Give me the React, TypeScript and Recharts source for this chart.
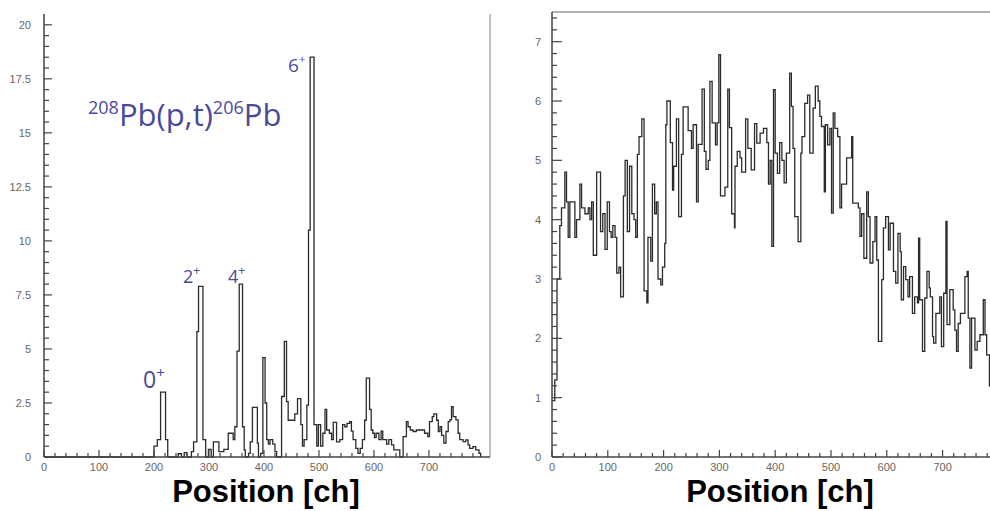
import { LineChart, Line, XAxis, YAxis, ReferenceLine } from "recharts";

// left spectrum: channel where each step starts, and the counts
const leftChannels = [
  0, 200, 206, 212, 221, 225, 244, 250, 255, 260,
  268, 272, 278, 281, 289, 294, 299, 304, 308, 318,
  327, 335, 344, 347, 351, 355, 361, 364, 366, 372,
  375, 379, 388, 390, 394, 398, 402, 405, 408, 411,
  416, 420, 423, 432, 437, 441, 444, 456, 461, 467,
  470, 473, 478, 481, 484, 491, 496, 499, 503, 507,
  511, 514, 519, 523, 526, 532, 538, 543, 547, 551,
  556, 559, 562, 567, 571, 575, 579, 583, 586, 592,
  595, 598, 601, 604, 609, 613, 616, 623, 627, 632,
  636, 647, 653, 659, 662, 666, 671, 677, 686, 692,
  698, 701, 706, 709, 714, 717, 720, 723, 727, 731,
  735, 738, 741, 744, 749, 753, 756, 762, 767, 771,
  774, 780, 785, 791, 794,
];
const leftCounts = [
  0, 0.5, 0.8, 3.0, 0.8, 0, 0.15, 0, 0.2, 0,
  0.25, 0.7, 5.8, 7.9, 0.8, 0, 0.35, 0, 0.7, 0.25,
  0.35, 1.1, 0.8, 1.4, 4.9, 8.0, 1.4, 0.33, 0, 0.17,
  0.7, 2.3, 0.64, 0, 0.17, 4.6, 2.5, 0.8, 0.6, 0.8,
  0.6, 0.25, 0, 2.8, 5.35, 2.56, 1.7, 2.0, 2.7, 1.5,
  0.5, 0.8, 2.4, 10.5, 18.5, 1.5, 0.5, 1.5, 0.5, 1.1,
  2.2, 1.25, 1.1, 0.8, 1.6, 0.7, 0.8, 1.5, 1.4, 1.56,
  1.64, 1.2, 0.8, 0.4, 0.17, 0.4, 0.8, 1.7, 3.65, 2.2,
  1.25, 1.1, 0.9, 1.1, 0.8, 1.2, 0.8, 0.6, 0.8, 0.56,
  0.33, 0, 0.94, 1.64, 1.4, 1.25, 1.18, 1.25, 1.25, 1.1,
  0.94, 1.64, 1.87, 2.0, 1.7, 1.18, 1.4, 1.0, 0.64, 1.18,
  1.64, 1.72, 2.33, 1.87, 1.72, 1.1, 0.8, 0.71, 0.79, 0.56,
  0.4, 0.48, 0.33, 0.17, 0,
];

// right spectrum
const rightChannels = [
  0, 5, 9, 14, 17, 23, 26, 29, 32, 41,
  44, 50, 53, 59, 65, 68, 71, 74, 80, 87,
  91, 95, 99, 103, 106, 109, 113, 116, 120, 123,
  128, 131, 135, 139, 143, 147, 150, 153, 156, 161,
  165, 170, 172, 177, 180, 184, 187, 190, 195, 198,
  202, 204, 206, 212, 216, 218, 223, 227, 232, 235,
  244, 250, 253, 259, 262, 269, 273, 276, 280, 283,
  287, 293, 296, 299, 302, 310, 315, 318, 322, 327,
  328, 332, 337, 340, 347, 351, 357, 363, 367, 373,
  379, 385, 388, 391, 394, 397, 400, 404, 408, 412,
  416, 420, 426, 429, 432, 435, 441, 446, 448, 453,
  458, 462, 468, 472, 477, 480, 483, 488, 490, 494,
  498, 501, 504, 507, 512, 516, 519, 528, 537, 539,
  549, 552, 555, 559, 564, 567, 570, 575, 579, 582,
  585, 591, 594, 598, 603, 606, 612, 616, 620, 624,
  626, 630, 634, 638, 641, 646, 650, 655, 657, 659,
  664, 668, 672, 676, 678, 682, 684, 688, 695, 698,
  702, 706, 708, 713, 719, 722, 725, 728, 732, 740,
  744, 746, 749, 752, 758, 762, 767, 773, 776, 779,
  784, 785,
];
const rightCounts = [
  0.95, 1.3, 3.0, 3.9, 4.2, 4.8, 4.3, 3.7, 4.3, 3.7,
  4.0, 4.6, 4.2, 4.1, 4.2, 4.0, 4.3, 3.4, 4.8, 3.8,
  4.1, 3.5, 4.3, 3.8, 3.7, 3.9, 3.7, 3.1, 3.2, 2.7,
  4.4, 5.0, 3.8, 4.9, 4.1, 4.0, 3.7, 5.1, 5.4, 5.7,
  2.8, 2.6, 3.7, 3.3, 4.6, 4.1, 4.3, 3.0, 2.9, 3.2,
  3.6, 5.6, 6.0, 5.3, 4.5, 4.9, 5.7, 4.05, 5.1, 5.9,
  5.5, 5.2, 5.6, 4.3, 5.27, 6.2, 5.15, 4.85, 5.0, 6.33,
  5.63, 5.26, 5.63, 6.78, 4.4, 4.55, 6.2, 5.55, 4.1, 3.86,
  4.9, 5.15, 5.04, 4.8, 5.7, 5.2, 4.84, 5.62, 5.29, 5.46,
  5.54, 5.3, 4.6, 5.0, 3.55, 6.19, 5.12, 4.78, 5.3, 5.0,
  4.62, 5.12, 6.47, 5.91, 5.2, 4.05, 3.63, 5.12, 5.4, 5.96,
  6.1, 5.12, 5.88, 6.25, 6.0, 5.74, 5.57, 4.47, 5.6, 5.26,
  5.54, 4.11, 5.8, 5.54, 5.4, 4.2, 4.6, 5.04, 5.4, 4.28,
  4.2, 3.72, 4.1, 3.35, 4.47, 4.05, 3.27, 3.63, 4.05, 3.32,
  1.95, 2.99, 3.86, 4.05, 3.49, 3.94, 3.13, 2.93, 3.77, 3.46,
  2.65, 3.21, 2.99, 2.7, 3.04, 2.42, 2.7, 2.6, 3.69, 2.65,
  1.78, 2.68, 3.13, 2.85, 2.7, 2.03, 1.92, 2.42, 2.7, 1.86,
  2.76, 3.97, 2.23, 2.82, 2.48, 2.14, 1.78, 2.25, 2.42, 3.04,
  3.13, 2.34, 1.5, 2.34, 1.8, 1.95, 2.06, 2.65, 2.06, 1.72,
  1.2, 1.2,
];

const xTickLabels = [0, 100, 200, 300, 400, 500, 600, 700];
const leftYTickLabels = [0, 2.5, 5, 7.5, 10, 12.5, 15, 17.5, 20];
const rightYTickLabels = [0, 1, 2, 3, 4, 5, 6, 7];

const leftData = leftChannels.map((ch, i) => ({ ch, count: leftCounts[i] }));
const rightData = rightChannels.map((ch, i) => ({ ch, count: rightCounts[i] }));

// minor ticks (every 20 ch, every 0.5 / 0.2 counts)
const xMinor = Array.from({ length: 40 }, (_, i) => i * 20);
const leftYMinor = Array.from({ length: 41 }, (_, i) => i * 0.5);
const rightYMinor = Array.from({ length: 38 }, (_, i) => Math.round(i * 2) / 10);

const AXIS = "#444";
const LABEL = "#666";
const INK = "#4a4a99";
const tickFont = { fontFamily: "Liberation Sans, Arial, sans-serif", fontSize: 11, fill: LABEL };

const isMajor = (labels: number[], v: number) => labels.some((l) => Math.abs(l - v) < 1e-6);

const XTick = (props: any) => {
  const { x, y, payload } = props;
  const major = isMajor(xTickLabels, payload.value);
  return (
    <g>
      <line x1={x} x2={x} y1={y} y2={y - (major ? 7 : 4)} stroke={AXIS} strokeWidth={1.2} />
      {major && (
        <text x={x} y={y + 14} textAnchor="middle" {...tickFont}>
          {payload.value}
        </text>
      )}
    </g>
  );
};

const makeYTick = (labels: number[], long: number, short: number, gap: number) => (props: any) => {
  const { x, y, payload } = props;
  const major = isMajor(labels, payload.value);
  return (
    <g>
      <line x1={x} x2={x + (major ? long : short)} y1={y} y2={y} stroke={AXIS} strokeWidth={1.2} />
      {major && (
        <text x={x - gap} y={y + 4} textAnchor="end" {...tickFont}>
          {payload.value}
        </text>
      )}
    </g>
  );
};

const LeftYTick = makeYTick(leftYTickLabels, 8, 5, 13);
const RightYTick = makeYTick(rightYTickLabels, 10, 5, 11);

export default function App() {
  return (
    <div style={{ position: "absolute", left: 0, top: 0, width: 990, height: 511, background: "#fff", overflow: "hidden" }}>
      <LineChart
        width={500}
        height={480}
        data={leftData}
        margin={{ top: 14, right: 10, bottom: 0, left: 0 }}
        style={{ position: "absolute", left: 0, top: 0 }}
      >
        <XAxis
          dataKey="ch"
          type="number"
          domain={[0, 811]}
          ticks={xMinor}
          interval={0}
          height={23}
          tickSize={0}
          tickMargin={0}
          tickLine={false}
          tick={XTick}
          axisLine={{ stroke: AXIS, strokeWidth: 1.5 }}
        />
        <YAxis
          type="number"
          domain={[0, 20.5]}
          ticks={leftYMinor}
          interval={0}
          width={44}
          tickSize={0}
          tickMargin={0}
          tickLine={false}
          tick={LeftYTick}
          axisLine={{ stroke: AXIS, strokeWidth: 1.5 }}
        />
        <ReferenceLine x={811} stroke="#aaa" strokeWidth={1.5} />
        <Line type="stepAfter" dataKey="count" stroke="#2b2b2b" strokeWidth={1.3} dot={false} isAnimationActive={false} />
      </LineChart>

      <LineChart
        width={482}
        height={480}
        data={rightData}
        margin={{ top: 12, right: 0, bottom: 0, left: 0 }}
        style={{ position: "absolute", left: 508, top: 0 }}
      >
        <XAxis
          dataKey="ch"
          type="number"
          domain={[0, 785]}
          ticks={xMinor}
          interval={0}
          height={23}
          tickSize={0}
          tickMargin={0}
          tickLine={false}
          tick={XTick}
          axisLine={{ stroke: AXIS, strokeWidth: 1.5 }}
        />
        <YAxis
          type="number"
          domain={[0, 7.5]}
          ticks={rightYMinor}
          interval={0}
          width={44}
          tickSize={0}
          tickMargin={0}
          tickLine={false}
          tick={RightYTick}
          axisLine={{ stroke: AXIS, strokeWidth: 1.5 }}
        />
        <ReferenceLine y={7.5} stroke="#999" strokeWidth={1.5} />
        <Line type="stepAfter" dataKey="count" stroke="#2b2b2b" strokeWidth={1.3} dot={false} isAnimationActive={false} />
      </LineChart>

      <svg width={990} height={511} style={{ position: "absolute", left: 0, top: 0, pointerEvents: "none" }}>
        <g fontFamily="Open Sans, Noto Sans, sans-serif" fill={INK}>
          <text x={88} y={126}>
            <tspan fontSize={18} dy={-12}>208</tspan>
            <tspan fontSize={31} dy={12}>Pb(p,t)</tspan>
            <tspan fontSize={18} dy={-12}>206</tspan>
            <tspan fontSize={31} dy={12}>Pb</tspan>
          </text>
          <text x={143} y={388} fontSize={23}>
            0<tspan fontSize={15} dy={-10}>+</tspan>
          </text>
          <text x={183} y={283} fontSize={18}>
            2<tspan fontSize={12} dy={-8}>+</tspan>
          </text>
          <text x={228} y={283} fontSize={18}>
            4<tspan fontSize={12} dy={-8}>+</tspan>
          </text>
          <text x={288} y={72} fontSize={19}>
            6<tspan fontSize={11} dy={-9}>+</tspan>
          </text>
        </g>
        <g fontFamily="Liberation Sans, Arial, sans-serif" fontWeight="bold" fontSize={31} fill="#000" textAnchor="middle">
          <text x={266} y={502}>Position [ch]</text>
          <text x={780} y={502}>Position [ch]</text>
        </g>
      </svg>
    </div>
  );
}
